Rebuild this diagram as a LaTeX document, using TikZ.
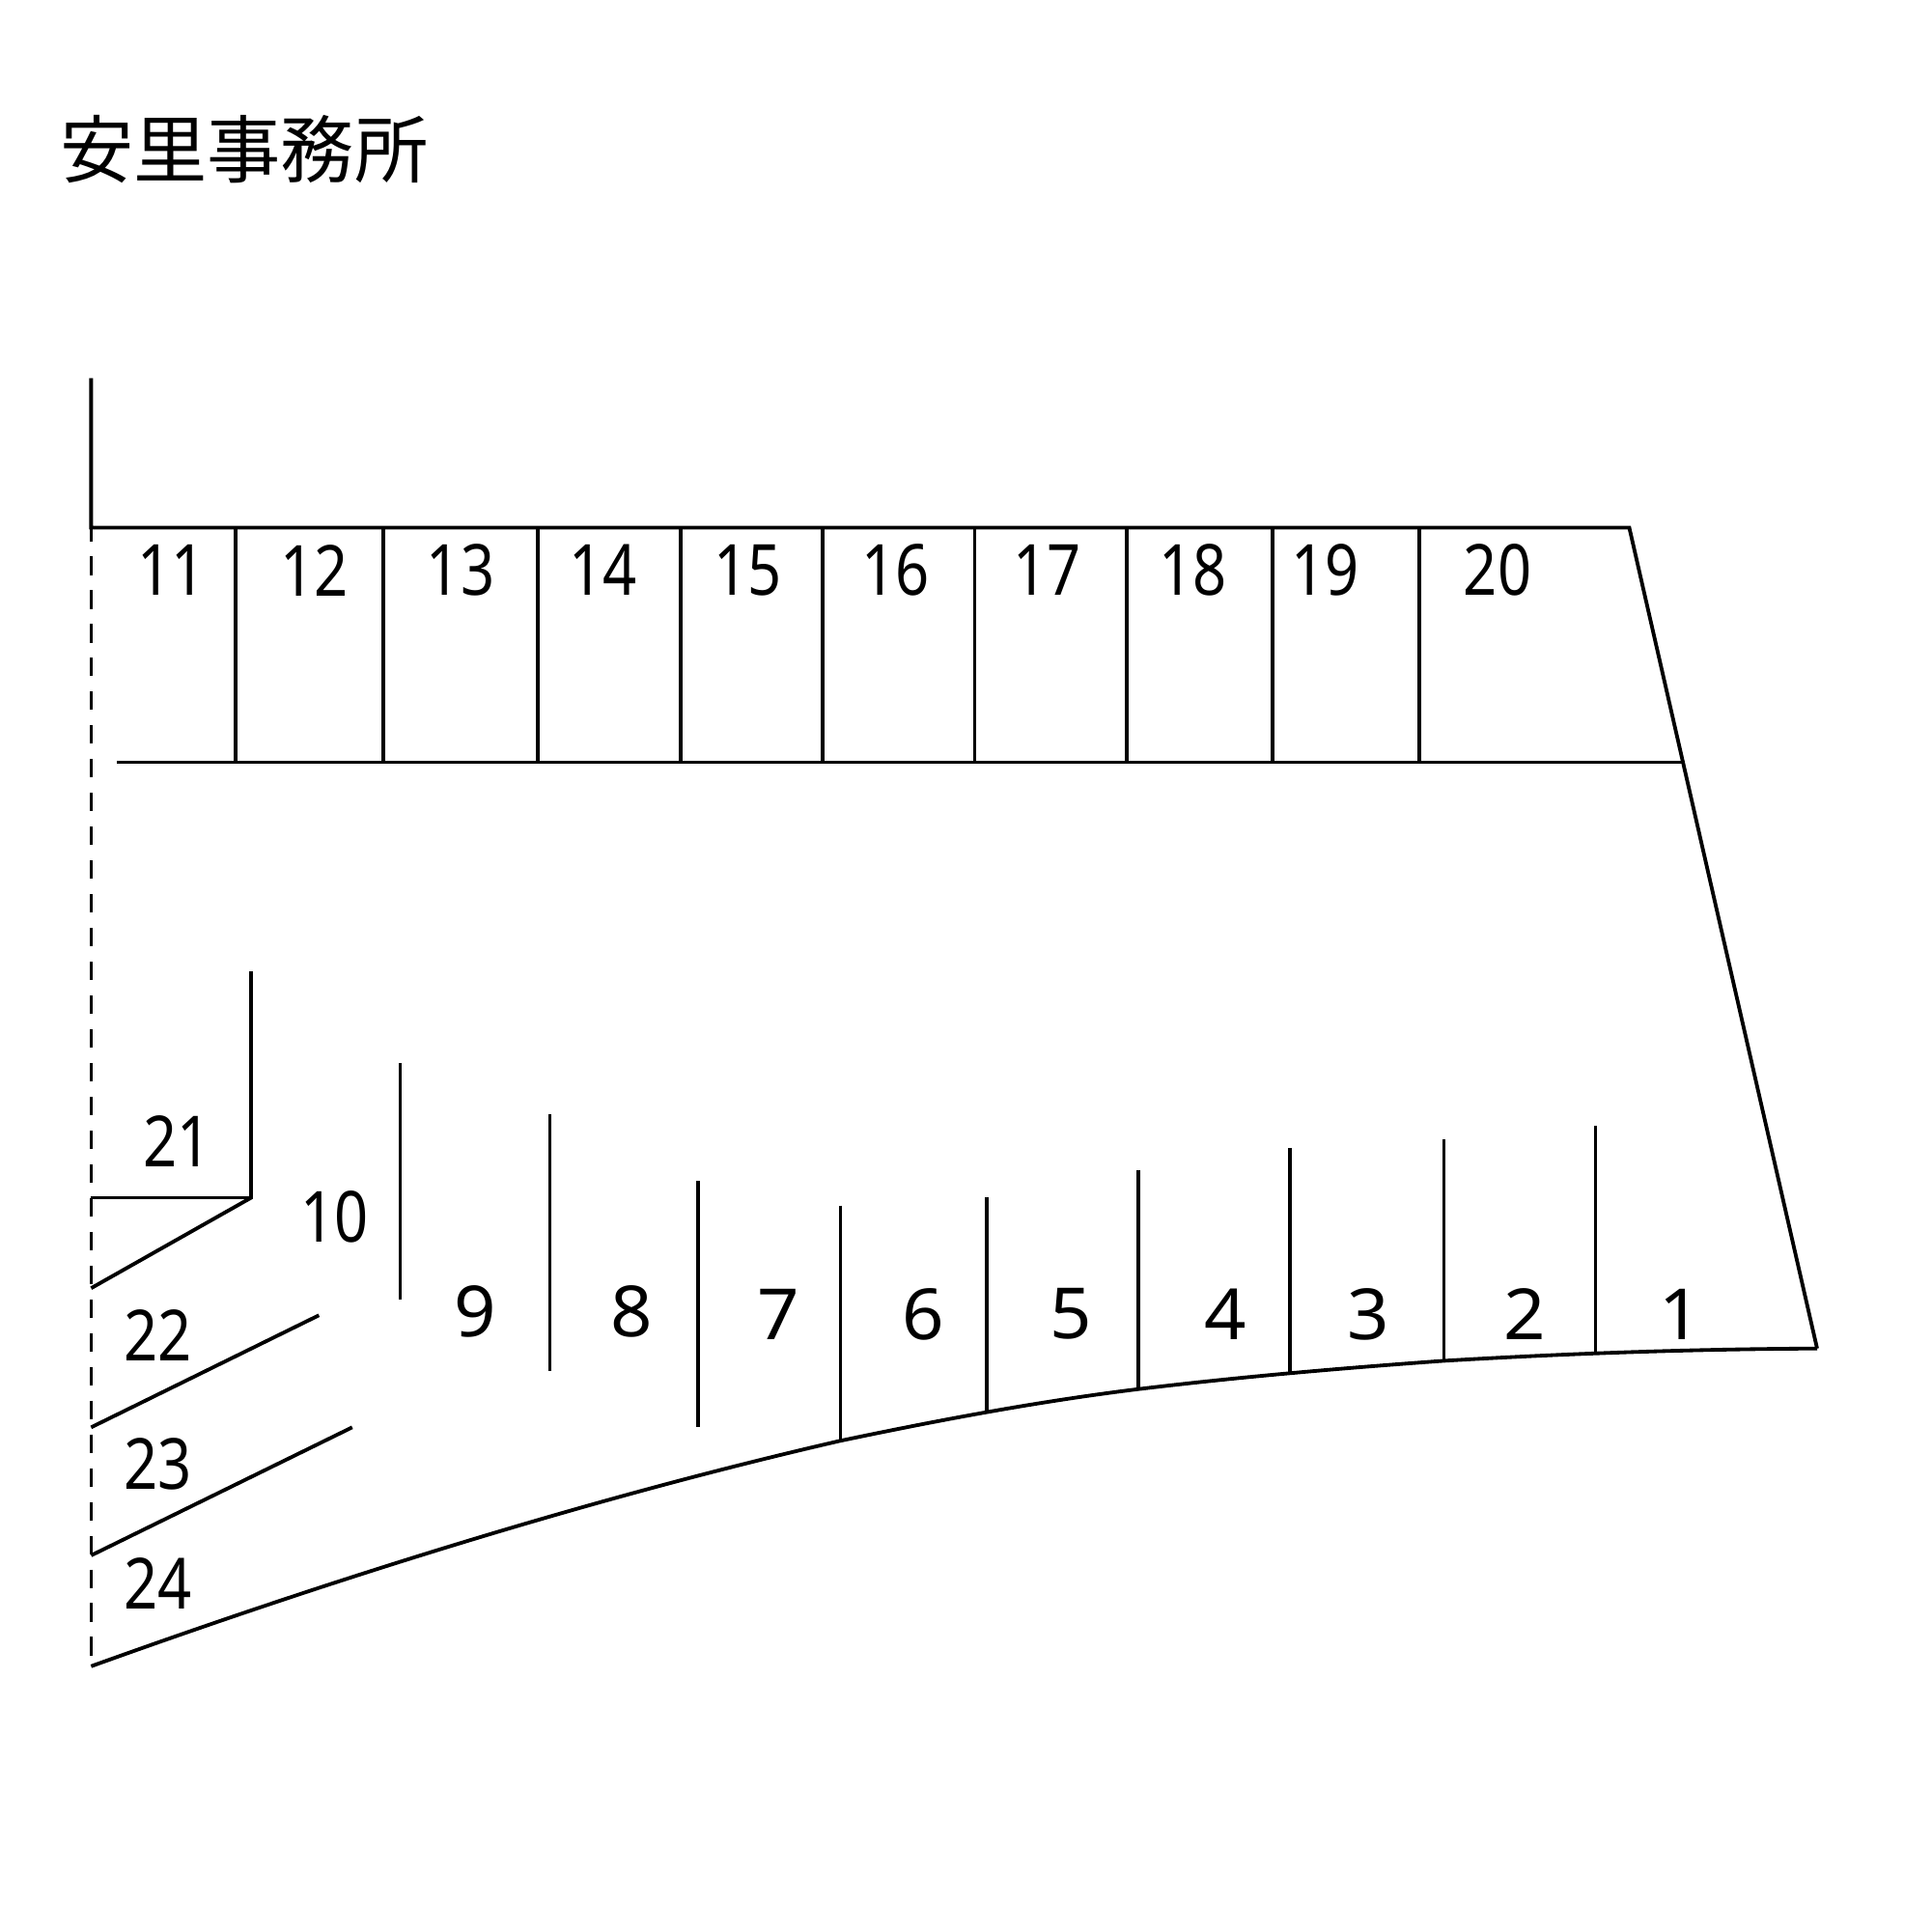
\documentclass[tikz,border=0pt]{standalone}
\usepackage{fontspec}
\newfontfamily\cjk{Noto Sans CJK JP}
\newfontfamily\numfont[FakeStretch=0.84]{Noto Sans}
\newfontfamily\numwide[FakeStretch=1.04]{Noto Sans}
\tikzset{
  ln/.style={line width=0.3mm,black},
  dsh/.style={line width=0.29mm,black,dash pattern=on 1.5mm off 1.24mm,dash phase=0.4mm},
  num/.style={font=\numfont\fontsize{16.3}{16.3}\selectfont,inner sep=0pt,anchor=center},
  numw/.style={font=\numwide\fontsize{16.3}{16.3}\selectfont,inner sep=0pt,anchor=center},
  ttl/.style={font=\cjk\fontsize{17}{17}\selectfont,inner sep=0pt,anchor=west},
}
\begin{document}
\begin{tikzpicture}[x=0.01cm,y=-0.01cm]
\useasboundingbox (0,0) rectangle (1568,1568);
\fill[white] (0,0) rectangle (1568,1568);
\node[ttl] (title) at (48,121) {安里事務所};
% frame corners
\coordinate (wt) at (74,307);
\coordinate (wc) at (74,428.5);
\coordinate (tr) at (1323,428.5);
\coordinate (br) at (1475.5,1095);
\coordinate (bl) at (74,1353);
\coordinate (ml) at (95,619);
\coordinate (mr) at (1366,619);
\draw[ln,line join=miter] (wt) -- (wc) -- (tr) -- (br);
\draw[ln] (ml) -- (mr);
\draw[dsh] (wc) -- (bl);
% road curve
\coordinate (c6) at (682,1170);
\coordinate (c5) at (801,1147);
\coordinate (c4) at (924,1128);
\coordinate (c3) at (1047,1115);
\coordinate (c2) at (1172,1105);
\coordinate (c1) at (1295,1099);
\draw[ln] (bl) .. controls (274,1281) and (482,1216) .. (c6)
  .. controls (763,1153) and (843,1138) .. (c4)
  .. controls (1007,1118) and (1089,1111) .. (c2)
  .. controls (1273,1099) and (1374,1095.5) .. (br);
% upper dividers
\foreach \x/\n in {191.5/a,311.5/b,437/c,552.5/d,668/e,791.5/f,915/g,1033/h,1152.5/i}{
  \coordinate (u\n) at (\x,428.5);
  \coordinate (v\n) at (\x,619);
  \draw[ln] (u\n) -- (v\n);
}
% lower dividers
\coordinate (t1) at (1295.5,914);
\coordinate (t2) at (1172.5,925);
\coordinate (t3) at (1047.5,932);
\coordinate (t4) at (924.5,950);
\coordinate (t5) at (801,972);
\coordinate (t6) at (682.5,979);
\draw[ln] (t1) -- (c1-|t1);
\draw[ln] (t2) -- (c2-|t2);
\draw[ln] (t3) -- (c3-|t3);
\draw[ln] (t4) -- (c4-|t4);
\draw[ln] (t5) -- (c5-|t5);
\draw[ln] (t6) -- (c6-|t6);
\coordinate (t7) at (567,959); \coordinate (b7) at (567,1159);
\coordinate (t8) at (446.5,905); \coordinate (b8) at (446.5,1113);
\coordinate (t9) at (325,863); \coordinate (b9) at (325,1055);
\draw[ln] (t7) -- (b7);
\draw[ln] (t8) -- (b8);
\draw[ln] (t9) -- (b9);
% left group
\coordinate (p1) at (204,789);
\coordinate (p2) at (204,972.5);
\coordinate (p3) at (74,972.5);
\coordinate (p4) at (74,1046);
\draw[ln] (p1) -- (p2) -- (p3);
\draw[ln] (p2) -- (p4);
\coordinate (q1) at (259,1068);
\coordinate (q2) at (74,1159);
\coordinate (r1) at (286,1159);
\coordinate (r2) at (74,1263);
\draw[ln] (q1) -- (q2);
\draw[ln] (r1) -- (r2);
% numbers
\foreach \t/\x/\y in {11/139/463,12/255.5/463,13/374/463,14/490/463,15/607/463,16/727/463,17/850/463,18/969/463,19/1076/463,20/1216/463,
 21/144/927,10/272/988,22/128/1084,23/128/1189,24/128/1286}{
  \node[num] (n\t) at (\x,\y) {\t};
}
\foreach \t/\x/\y in {9/386/1065,8/513/1065,7/632/1067,6/750/1067,5/870/1067,4/995/1067,3/1111/1067,2/1238/1067,1/1364/1067}{
  \node[numw] (n\t) at (\x,\y) {\t};
}
\end{tikzpicture}
\end{document}
